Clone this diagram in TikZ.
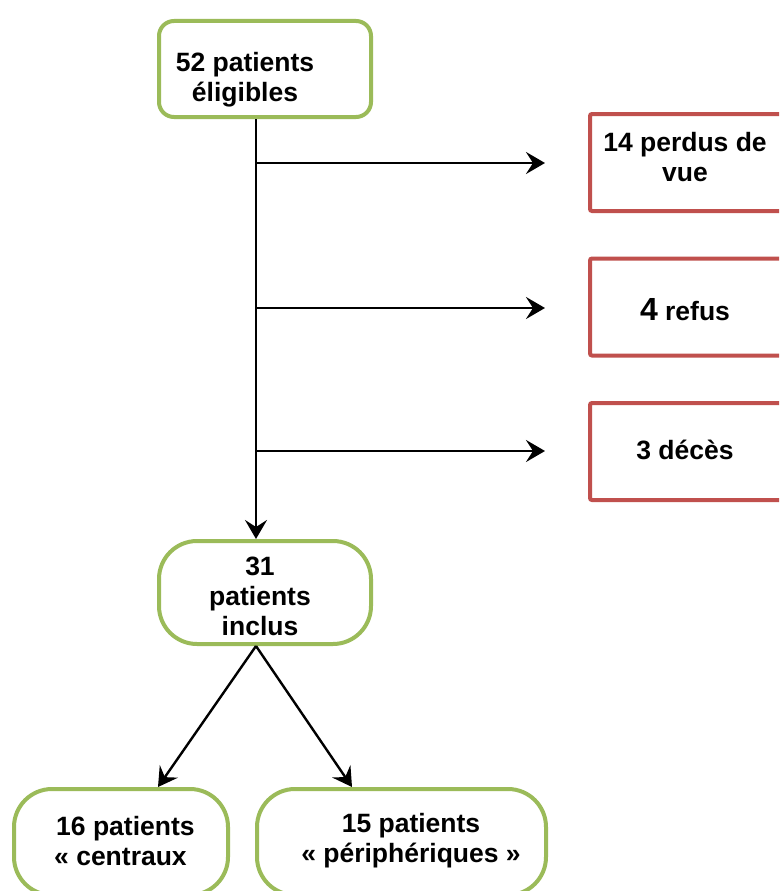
\documentclass[tikz,border=0pt]{standalone}
\usepackage{fontspec}
\setmainfont{Liberation Sans}
\usetikzlibrary{arrows.meta}
\definecolor{grn}{HTML}{9BBB59}
\definecolor{rd}{HTML}{C0504D}
\begin{document}
\begin{tikzpicture}[x=1pt,y=-1pt,
  gbox/.style={draw=grn,line width=4pt,rounded corners=#1,fill=white,inner sep=0pt},
  rbox/.style={draw=rd,line width=4pt,rounded corners=2pt,fill=white,inner sep=0pt,minimum width=200pt,minimum height=97pt},
  txt/.style={font=\bfseries\fontsize{26.5}{30}\selectfont,align=center,inner sep=0pt},
  arr/.style={line width=2.4pt,-{Stealth[length=19pt,width=22pt,inset=7pt]}}]
\clip (0,0) rectangle (779,891);
\fill[white] (0,0) rectangle (779,891);
% boxes
\node[gbox=15pt,minimum width=212pt,minimum height=96pt] (top) at (265,69) {};
\node[rbox] (r1) at (690,162.5) {};
\node[rbox] (r2) at (690,307) {};
\node[rbox] (r3) at (690,451.5) {};
\node[gbox=38pt,minimum width=212pt,minimum height=103pt] (mid) at (265,592.5) {};
\node[gbox=38pt,minimum width=214pt,minimum height=106pt] (bl) at (121,842) {};
\node[gbox=38pt,minimum width=289pt,minimum height=106pt] (br) at (401.5,842) {};
% texts
\node[txt] (t0) at (245,80) {52 patients\\éligibles};
\node[txt] (t1) at (685,157) {14 perdus de\\vue};
\node[txt] (t2) at (685,310) {{\fontsize{32}{30}\selectfont 4} refus};
\node[txt] (t3) at (685,450) {3 décès};
\node[txt] (t4) at (260,596) {31\\patients\\inclus};
\node[txt,align=left,anchor=west] (t5) at (54,841) {\hspace{2pt}16 patients\\« centraux};
\node[txt] (t6) at (411,841) {15 patients\\« périphériques »};
% junctions
\coordinate (j1) at (256,163);
\coordinate (j2) at (256,308);
\coordinate (j3) at (256,451);
\coordinate (e1) at (545,163);
\coordinate (e2) at (545,308);
\coordinate (e3) at (545,451);
\coordinate (d1) at (158,787);
\coordinate (d2) at (352,787);
% connectors
\draw[arr] (top.south -| j1) -- (mid.north -| j1);
\draw[arr] (j1) -- (e1);
\draw[arr] (j2) -- (e2);
\draw[arr] (j3) -- (e3);
\draw[arr] (mid.south -| j1) -- (bl.north -| d1);
\draw[arr] (mid.south -| j1) -- (br.north -| d2);
\end{tikzpicture}
\end{document}
